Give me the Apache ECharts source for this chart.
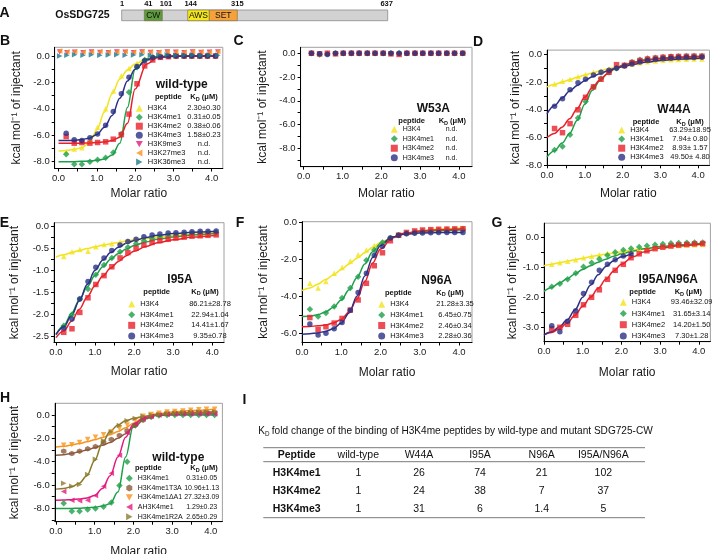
<!DOCTYPE html>
<html><head><meta charset="utf-8">
<script src="https://cdn.jsdelivr.net/npm/echarts@6/dist/echarts.min.js"></script>
<style>html,body{margin:0;padding:0;background:#fff}#c{width:713px;height:554px}</style>
</head><body><div id="c"></div>
<script>
// ===================== DATA =====================
const xTicks = [0, 1, 2, 3, 4];
const xMinorTicks = [0.5, 1.5, 2.5, 3.5];
const yTicksB = [0, -2, -4, -6, -8], yMinorB = [-1, -3, -5, -7];
const yTicksC = [0, -2, -4, -6, -8], yMinorC = [-1, -3, -5, -7, -9];
const yTicksD = [0, -2, -4, -6, -8], yMinorD = [-1, -3, -5, -7];
const yTicksE = [0, -0.5, -1, -1.5, -2, -2.5], yMinorE = [-0.25, -0.75, -1.25, -1.75, -2.25];
const yTicksF = [0, -2, -4, -6], yMinorF = [-1, -3, -5];
const yTicksG = [0, -1, -2, -3], yMinorG = [-0.5, -1.5, -2.5];
const yTicksH = [0, -2, -4, -6, -8], yMinorH = [-1, -3, -5, -7, -9];

// injection molar ratios
const injX = [0.2,0.41,0.61,0.82,1.02,1.23,1.43,1.64,1.84,2.05,2.25,2.46,2.66,2.87,3.07,3.28,3.48,3.69,3.89,4.1];
const ndX  = [0.03,0.22,0.42,0.64,0.86,1.08,1.3,1.52,1.74,1.96,2.18,2.4,2.62,2.84,3.06,3.28,3.5,3.72,3.94,4.16];
const injXG3 = [0.2,0.41,0.61,0.82,1.02,1.23,1.43,1.64,1.84,2.05,2.25];
// fitted curve sample positions
const fitX = [0,0.2,0.4,0.6,0.8,1.0,1.2,1.4,1.6,1.8,2.0,2.3,2.6,3.0,3.5,4.1];
const fitXG3 = [0,0.2,0.4,0.6,0.8,1.0,1.2,1.4,1.6,1.8,2.0,2.3];

// Panel B: wild-type
const pepB = ['H3K4','H3K4me1','H3K4me2','H3K4me3','H3K9me3','H3K27me3','H3K36me3'];
const kdB  = ['2.30±0.30','0.31±0.05','0.38±0.06','1.58±0.23','n.d.','n.d.','n.d.'];
const B_k4  = [-7.25,-7.05,-6.95,-6.4,-5.4,-4.0,-2.65,-1.5,-0.95,-0.55,-0.25,-0.1,-0.05,-0.02,0,0,0,0,0,0];
const B_me1 = [-7.45,-8.2,-8.2,-8.0,-7.85,-7.7,-7.3,-5.9,-2.75,-0.85,-0.3,-0.1,-0.05,0,0,0,0,0,0,0];
const B_me2 = [-6.1,-6.6,-6.55,-6.6,-6.55,-6.5,-6.3,-5.95,-4.4,-2.1,-0.75,-0.3,-0.1,-0.05,0,0,0,0,0,0];
const B_me3 = [-5.85,-6.35,-6.4,-6.2,-5.9,-5.25,-4.2,-2.85,-1.6,-0.8,-0.35,-0.12,-0.05,0,0,0,0,0,0,0];
const B_k9  = [0.3,0.25,0.28,0.25,0.3,0.27,0.25,0.3,0.28,0.25,0.3,0.27,0.25,0.3,0.28,0.25,0.3,0.27,0.28,0.3];
const B_k27 = [0.38,0.32,0.35,0.3,0.33,0.35,0.3,0.33,0.35,0.3,0.35,0.32,0.3,0.35,0.33,0.3,0.35,0.33,0.3,0.35];
const B_k36 = [0,0.05,0.1,0.05,0.1,0.05,0.08,0.1,0.05,0.08,0.1,0.05,0.08,0.1,0.05,0.08,0.1,0.05,0.08,0.05];
const B_k4_fit  = [-7.2,-7.15,-7.08,-6.95,-6.6,-5.6,-4.25,-2.85,-1.75,-1.05,-0.6,-0.22,-0.07,-0.02,0,0];
const B_me1_fit = [-8.0,-8.0,-8.0,-7.98,-7.95,-7.9,-7.8,-7.5,-6.6,-3.9,-1.0,-0.2,-0.05,0,0,0];
const B_me2_fit = [-6.6,-6.6,-6.6,-6.6,-6.58,-6.55,-6.5,-6.4,-6.15,-5.1,-2.5,-0.6,-0.12,-0.02,0,0];
const B_me3_fit = [-6.4,-6.4,-6.38,-6.33,-6.22,-5.95,-5.4,-4.5,-3.2,-1.9,-1.0,-0.3,-0.08,-0.02,0,0];

// Panel C: W53A
const pep4 = ['H3K4','H3K4me1','H3K4me2','H3K4me3'];
const kdC  = ['n.d.','n.d.','n.d.','n.d.'];
const C_k4  = [0,-0.05,0,0,0,0,0,0,0,0,0,0,0,0,0,0,0,0,0,0];
const C_me1 = [0,-0.1,-0.05,0,0,0,0,0,0,0,0,0,0,0,0,0,0,0,0,0];
const C_me2 = [0,-0.05,0,-0.05,0,0,0,0,0,0,-0.05,-0.1,0,0,0,0,0,0,0,0];
const C_me3 = [0,-0.05,-0.1,0,0,0,0,0,0,0,0,0,0,0,0,0,0,0,0,0];

// Panel D: W44A
const kdD = ['63.29±18.95','7.94± 0.80','8.93± 1.57','49.50± 4.80'];
const D_k4  = [-2.15,-1.95,-1.8,-1.62,-1.45,-1.3,-1.18,-1.05,-0.93,-0.83,-0.72,-0.62,-0.54,-0.48,-0.44,-0.4,-0.38,-0.36,-0.35,-0.34];
const D_me1 = [-6.9,-6.65,-5.8,-4.6,-3.4,-2.35,-1.75,-1.3,-1.0,-0.8,-0.55,-0.4,-0.3,-0.25,-0.2,-0.17,-0.15,-0.13,-0.12,-0.12];
const D_me2 = [-5.35,-5.65,-5.0,-4.0,-3.1,-2.35,-1.8,-1.3,-0.75,-0.8,-0.6,-0.45,-0.35,-0.28,-0.22,-0.18,-0.16,-0.15,-0.14,-0.14];
const D_me3 = [-3.75,-3.2,-2.55,-2.05,-1.8,-1.5,-1.3,-1.15,-1.0,-0.85,-0.7,-0.55,-0.45,-0.38,-0.32,-0.28,-0.26,-0.24,-0.23,-0.22];
const D_k4_fit  = [-2.35,-2.18,-2.0,-1.83,-1.66,-1.5,-1.35,-1.2,-1.07,-0.95,-0.84,-0.7,-0.58,-0.47,-0.39,-0.33];
const D_me1_fit = [-7.4,-6.95,-6.4,-5.7,-4.75,-3.6,-2.6,-1.9,-1.4,-1.05,-0.8,-0.55,-0.4,-0.28,-0.2,-0.14];
const D_me2_fit = [-6.0,-5.7,-5.25,-4.65,-3.9,-3.1,-2.4,-1.85,-1.4,-1.05,-0.82,-0.6,-0.45,-0.32,-0.23,-0.17];
const D_me3_fit = [-4.3,-3.7,-3.15,-2.65,-2.25,-1.9,-1.62,-1.4,-1.2,-1.03,-0.9,-0.72,-0.58,-0.45,-0.35,-0.27];

// Panel E: I95A
const kdE = ['86.21±28.78','22.94±1.04','14.41±1.67','9.35±0.78'];
const E_k4  = [-0.69,-0.58,-0.53,-0.57,-0.47,-0.42,-0.4,-0.36,-0.33,-0.3,-0.27,-0.25,-0.23,-0.21,-0.2,-0.19,-0.18,-0.17,-0.16,-0.15];
const E_me1 = [-2.25,-2.0,-1.65,-1.42,-1.1,-0.88,-0.72,-0.58,-0.48,-0.4,-0.33,-0.28,-0.25,-0.22,-0.2,-0.18,-0.17,-0.16,-0.15,-0.15];
const E_me2 = [-2.4,-2.32,-1.95,-1.62,-1.32,-1.12,-0.92,-0.72,-0.6,-0.5,-0.43,-0.37,-0.33,-0.3,-0.27,-0.25,-0.23,-0.22,-0.21,-0.2];
const E_me3 = [-2.3,-2.1,-1.65,-1.25,-0.93,-0.72,-0.55,-0.43,-0.35,-0.3,-0.24,-0.2,-0.18,-0.16,-0.15,-0.14,-0.13,-0.12,-0.12,-0.11];
const E_k4_fit  = [-0.7,-0.65,-0.6,-0.55,-0.51,-0.47,-0.43,-0.4,-0.37,-0.34,-0.31,-0.28,-0.25,-0.22,-0.19,-0.16];
const E_me1_fit = [-2.45,-2.25,-1.97,-1.67,-1.37,-1.12,-0.92,-0.75,-0.62,-0.52,-0.44,-0.36,-0.3,-0.25,-0.2,-0.17];
const E_me2_fit = [-2.52,-2.37,-2.15,-1.88,-1.6,-1.35,-1.13,-0.95,-0.8,-0.67,-0.57,-0.46,-0.38,-0.31,-0.25,-0.21];
const E_me3_fit = [-2.45,-2.28,-2.02,-1.68,-1.32,-1.0,-0.77,-0.6,-0.48,-0.39,-0.33,-0.26,-0.21,-0.17,-0.14,-0.12];

// Panel F: N96A
const kdF = ['21.28±3.35','6.45±0.75','2.46±0.34','2.28±0.36'];
const F_k4  = [-3.3,-3.55,-3.2,-2.75,-2.45,-2.1,-1.75,-1.5,-1.25,-1.05,-0.85,-0.7,-0.6,-0.5,-0.45,-0.4,-0.37,-0.34,-0.32,-0.3];
const F_me1 = [-4.7,-5.1,-4.9,-4.55,-4.1,-3.55,-2.95,-2.05,-1.5,-1.1,-0.85,-0.7,-0.6,-0.55,-0.5,-0.47,-0.45,-0.43,-0.42,-0.4];
const F_me2 = [-5.15,-5.8,-5.65,-5.45,-5.2,-4.75,-4.2,-3.3,-2.35,-1.65,-1.0,-0.7,-0.55,-0.47,-0.42,-0.4,-0.38,-0.37,-0.36,-0.35];
const F_me3 = [-5.5,-6.1,-6.0,-5.75,-5.42,-4.75,-3.8,-2.75,-1.8,-1.3,-0.85,-0.7,-0.62,-0.6,-0.58,-0.57,-0.56,-0.56,-0.55,-0.55];
const F_k4_fit  = [-3.7,-3.55,-3.35,-3.1,-2.85,-2.55,-2.25,-1.95,-1.65,-1.35,-1.1,-0.82,-0.62,-0.47,-0.37,-0.3];
const F_me1_fit = [-5.1,-5.08,-5.0,-4.85,-4.6,-4.2,-3.65,-3.0,-2.25,-1.6,-1.15,-0.8,-0.62,-0.52,-0.45,-0.4];
const F_me2_fit = [-5.65,-5.63,-5.6,-5.55,-5.45,-5.25,-4.85,-4.15,-3.2,-2.2,-1.45,-0.85,-0.6,-0.47,-0.4,-0.35];
const F_me3_fit = [-6.05,-6.03,-5.98,-5.9,-5.75,-5.45,-4.9,-4.0,-2.9,-1.9,-1.25,-0.8,-0.65,-0.58,-0.56,-0.55];

// Panel G: I95A/N96A
const kdG = ['93.46±32.09','31.65±3.14','14.20±1.50','7.30±1.28'];
const G_k4  = [-0.9,-0.85,-0.8,-0.75,-0.68,-0.63,-0.58,-0.53,-0.5,-0.45,-0.42,-0.38,-0.35,-0.32,-0.3,-0.28,-0.27,-0.26,-0.25,-0.24];
const G_me1 = [-1.65,-1.55,-1.4,-1.2,-0.98,-0.85,-0.72,-0.6,-0.5,-0.42,-0.37,-0.32,-0.28,-0.25,-0.22,-0.2,-0.19,-0.18,-0.17,-0.17];
const G_me2 = [-3.05,-3.0,-2.9,-2.6,-2.25,-2.0,-1.75,-1.4,-1.1,-0.9,-0.68,-0.55,-0.45,-0.38,-0.33,-0.29,-0.26,-0.24,-0.22,-0.21];
const G_me3 = [-2.95,-3.15,-2.8,-2.45,-1.87,-1.5,-1.1,-0.9,-0.75,-0.62,-0.55];
const G_k4_fit  = [-0.95,-0.9,-0.85,-0.8,-0.75,-0.7,-0.65,-0.6,-0.56,-0.52,-0.48,-0.42,-0.37,-0.32,-0.28,-0.24];
const G_me1_fit = [-1.8,-1.67,-1.52,-1.38,-1.22,-1.07,-0.95,-0.83,-0.73,-0.63,-0.55,-0.46,-0.38,-0.31,-0.25,-0.2];
const G_me2_fit = [-3.25,-3.17,-3.05,-2.85,-2.6,-2.3,-2.0,-1.7,-1.4,-1.12,-0.9,-0.65,-0.48,-0.36,-0.28,-0.22];
const G_me3_fit = [-3.25,-3.15,-2.98,-2.75,-2.42,-2.0,-1.6,-1.25,-0.97,-0.78,-0.65,-0.52];

// Panel H: wild-type, peptide variants
const pepH = ['H3K4me1','H3K4me1T3A','H3K4me1ΔA1','AH3K4me1','H3K4me1R2A'];
const kdH  = ['0.31±0.05','10.96±1.13','27.32±3.09','1.29±0.23','2.65±0.29'];
const H_me1 = [-7.55,-8.25,-8.25,-8.1,-8.0,-7.85,-7.5,-6.05,-4.0,-0.9,-0.35,-0.15,-0.05,0,0,0,0,0,0,0];
const H_t3a = [-3.1,-3.3,-3.1,-2.9,-2.7,-2.35,-2.1,-1.75,-1.35,-0.85,-0.45,-0.15,0.05,0.15,0.2,0.22,0.25,0.25,0.25,0.25];
const H_da1 = [-2.6,-2.55,-2.35,-2.1,-1.9,-1.7,-1.45,-1.15,-0.85,-0.45,-0.1,0.05,0.15,0.25,0.3,0.35,0.4,0.45,0.5,0.5];
const H_ah  = [-6.55,-7.3,-7.35,-7.3,-6.9,-6.1,-5.0,-3.45,-1.5,-0.75,-0.3,-0.1,0,0.05,0.08,0.1,0.1,0.1,0.1,0.1];
const H_r2a = [-5.85,-6.1,-5.95,-5.1,-3.8,-2.2,-1.45,-0.9,-0.5,-0.3,-0.1,0.0,0.05,0.1,0.15,0.2,0.22,0.25,0.25,0.25];
const H_me1_fit = [-8.0,-8.0,-8.0,-7.98,-7.95,-7.9,-7.8,-7.6,-6.6,-3.6,-0.9,-0.15,-0.05,0,0,0];
const H_t3a_fit = [-3.45,-3.4,-3.3,-3.15,-3.0,-2.8,-2.6,-2.35,-2.0,-1.6,-1.05,-0.35,0,0.15,0.22,0.25];
const H_da1_fit = [-2.75,-2.68,-2.58,-2.45,-2.3,-2.12,-1.92,-1.7,-1.42,-1.1,-0.7,-0.15,0.1,0.25,0.38,0.5];
const H_ah_fit  = [-7.3,-7.28,-7.25,-7.2,-7.1,-6.9,-6.3,-5.2,-3.6,-1.9,-0.8,-0.2,0,0.05,0.08,0.1];
const H_r2a_fit = [-6.35,-6.3,-6.15,-5.85,-5.2,-3.9,-2.4,-1.4,-0.85,-0.5,-0.3,-0.1,0.03,0.12,0.2,0.25];

const panelTitles = {B:'wild-type', C:'W53A', D:'W44A', E:'I95A', F:'N96A', G:'I95A/N96A', H:'wild-type'};

// Panel A: domain schematic
const proteinName = 'OsSDG725';
const domainNames = ['CW', 'AWS', 'SET'];
const residueLabels = [1, 41, 101, 144, 315, 637];

// Panel I: table
const tableTitle = ' fold change of the binding of H3K4me peptides by wild-type and mutant SDG725-CW';
const tableHeader = ['Peptide', 'wild-type', 'W44A', 'I95A', 'N96A', 'I95A/N96A'];
const tablePeptides = ['H3K4me1', 'H3K4me2', 'H3K4me3'];
const foldWT   = ['1', '1', '1'];
const foldW44A = ['26', '24', '31'];
const foldI95A = ['74', '38', '6'];
const foldN96A = ['21', '7', '1.4'];
const foldDbl  = ['102', '37', '5'];

// ===================== STYLE / LAYOUT =====================
const FONT = "'Liberation Sans', Arial, Helvetica, sans-serif";
const DOWN = 'path://M0,0L10,0L5,9Z', LEFT = 'path://M9,0L9,10L0,5Z', RIGHT = 'path://M0,0L0,10L9,5Z';
const HEX = 'path://M5,0L9.3,2.5L9.3,7.5L5,10L0.7,7.5L0.7,2.5Z';
const STY = {
  'H3K4': {c:'#F3E31A', s:'triangle'},
  'H3K4me1': {c:'#1E9F4A', s:'diamond'},
  'H3K4me2': {c:'#E8202A', s:'rect'},
  'H3K4me3': {c:'#2B2F85', s:'circle'},
  'H3K9me3': {c:'#E4197E', s:DOWN},
  'H3K27me3': {c:'#F7941D', s:LEFT},
  'H3K36me3': {c:'#1B7B88', s:RIGHT},
  'H3K4me1T3A': {c:'#8B5A3C', s:HEX},
  'H3K4me1ΔA1': {c:'#F7941D', s:DOWN},
  'AH3K4me1': {c:'#E4197E', s:LEFT},
  'H3K4me1R2A': {c:'#8C7A2B', s:RIGHT}
};

const panels = [
  {id:'B', peps:pepB, kds:kdB, pts:[B_k4,B_me1,B_me2,B_me3,B_k9,B_k27,B_k36], ptx:[injX,injX,injX,injX,ndX,ndX,ndX],
   fits:[B_k4_fit,B_me1_fit,B_me2_fit,B_me3_fit,null,null,null], fx:[fitX,fitX,fitX,fitX], yT:yTicksB, yM:yMinorB},
  {id:'C', peps:pep4, kds:kdC, pts:[C_k4,C_me1,C_me2,C_me3], ptx:[injX,injX,injX,injX], fits:[null,null,null,null], fx:[], yT:yTicksC, yM:yMinorC},
  {id:'D', peps:pep4, kds:kdD, pts:[D_k4,D_me1,D_me2,D_me3], ptx:[injX,injX,injX,injX],
   fits:[D_k4_fit,D_me1_fit,D_me2_fit,D_me3_fit], fx:[fitX,fitX,fitX,fitX], yT:yTicksD, yM:yMinorD},
  {id:'E', peps:pep4, kds:kdE, pts:[E_k4,E_me1,E_me2,E_me3], ptx:[injX,injX,injX,injX],
   fits:[E_k4_fit,E_me1_fit,E_me2_fit,E_me3_fit], fx:[fitX,fitX,fitX,fitX], yT:yTicksE, yM:yMinorE},
  {id:'F', peps:pep4, kds:kdF, pts:[F_k4,F_me1,F_me2,F_me3], ptx:[injX,injX,injX,injX],
   fits:[F_k4_fit,F_me1_fit,F_me2_fit,F_me3_fit], fx:[fitX,fitX,fitX,fitX], yT:yTicksF, yM:yMinorF},
  {id:'G', peps:pep4, kds:kdG, pts:[G_k4,G_me1,G_me2,G_me3], ptx:[injX,injX,injX,injXG3],
   fits:[G_k4_fit,G_me1_fit,G_me2_fit,G_me3_fit], fx:[fitX,fitX,fitX,fitXG3], yT:yTicksG, yM:yMinorG},
  {id:'H', peps:pepH, kds:kdH, pts:[H_me1,H_t3a,H_da1,H_ah,H_r2a], ptx:[injX,injX,injX,injX,injX],
   fits:[H_me1_fit,H_t3a_fit,H_da1_fit,H_ah_fit,H_r2a_fit], fx:[fitX,fitX,fitX,fitX,fitX], yT:yTicksH, yM:yMinorH}
];

const layout = {
  B:{l:54.7,t:47.3,r:222.8,b:168.5,x:[-0.1,4.29],y:[-8.52,0.66],yGap:32.5,xGap:19,
     leg:{ix:139.3,row:108.3,sp:8.95,kx:204,fs:7.5},title:[181.7,85,12],head:{y:97.3,px:168.3,kx:204}},
  C:{l:300.6,t:47.3,r:472,b:166.7,x:[-0.08,4.34],y:[-9.55,0.5],yGap:31.5,xGap:20.5,
     leg:{ix:394.3,row:129.3,sp:9.47,kx:451.5,fs:7},title:[433.3,108.3,12],head:{y:121,px:411.7,kx:452.3}},
  D:{l:547,t:50.1,r:709.5,b:165.3,x:[0,4.3],y:[-8,0.3],yGap:20,xGap:22.5,
     leg:{ix:621.7,row:130,sp:9.1,kx:690,fs:7.5},title:[674,110,12],head:{y:122.3,px:646,kx:690}},
  E:{l:54,t:222.7,r:224,b:342.5,x:[-0.05,4.3],y:[-2.63,0.075],yGap:33,xGap:23.5,
     leg:{ix:131.7,row:304,sp:10.67,kx:210,fs:7.5},title:[180,280,12],head:{y:291.7,px:156.7,kx:205}},
  F:{l:302,t:221.7,r:472,b:342.5,x:[0,4.33],y:[-6.5,0.03],yGap:32.5,xGap:24,
     leg:{ix:381.7,row:304.3,sp:10.6,kx:455,fs:7.5},title:[436.7,281,12],head:{y:292.7,px:398.3,kx:450}},
  G:{l:544,t:223.2,r:710.4,b:341.7,x:[0,4.3],y:[-3.48,0.47],yGap:18,xGap:24.5,
     leg:{ix:623.3,row:302.3,sp:11.2,kx:691.7,fs:7.5},title:[668.3,280,12],head:{y:292.3,px:642.7,kx:688.3}},
  H:{l:54.8,t:403.3,r:222.4,b:521.7,x:[-0.03,4.3],y:[-9.14,1.0],yGap:34,xGap:24,
     leg:{ix:129.3,row:478.3,sp:9.6,kx:201.7,fs:7},title:[178.3,457.3,12],head:{y:468.3,px:148.3,kx:204}}
};

// ===================== BUILD =====================
const grids = [], xAxes = [], yAxes = [], legends = [], series = [], graphics = [];
const info = {};
const fmt1 = v => v.toFixed(1);
const merge = (a, b) => a.concat(b).sort((u, v) => u - v);

function txt(x, y, text, size, bold, align, extra) {
  return Object.assign({type:'text', x:x, y:y, silent:true,
    style:{text:text, fontSize:size, fontWeight:bold?'bold':'normal', fontFamily:FONT, fill:'#111',
           align:align||'center', verticalAlign:'middle'}}, extra||{});
}
function kdHeader(x, y, size) {
  return {type:'text', x:x, y:y, silent:true, style:{text:'{a|K}{s|D}{a| (μM)}', fontFamily:FONT, fill:'#111',
    align:'center', verticalAlign:'middle',
    rich:{a:{fontSize:size, fontWeight:'bold', fontFamily:FONT}, s:{fontSize:size-2, fontWeight:'bold', fontFamily:FONT, padding:[4,0,0,0]}}}};
}

panels.forEach((p, i) => {
  const L = layout[p.id];
  grids.push({left:L.l, top:L.t, width:L.r-L.l, height:L.b-L.t, show:true, borderColor:'#a0a0a0', borderWidth:1,
              backgroundColor:'rgba(0,0,0,0)', containLabel:false, outerBoundsMode:'none'});
  const axLine = {show:true, onZero:false, lineStyle:{color:'#000', width:1}};
  xAxes.push({gridIndex:i, type:'value', min:L.x[0], max:L.x[1], position:'bottom', axisLine:axLine,
    axisTick:{show:true, customValues:merge(xTicks, xMinorTicks), length:3, lineStyle:{color:'#000'}},
    axisLabel:{customValues:xTicks, formatter:fmt1, fontSize:9.5, color:'#1a1a1a', margin:5, fontFamily:FONT},
    splitLine:{show:false}, name:'Molar ratio', nameLocation:'middle', nameGap:L.xGap,
    nameTextStyle:{fontSize:12, color:'#1a1a1a', fontFamily:FONT}});
  yAxes.push({gridIndex:i, type:'value', min:L.y[0], max:L.y[1], position:'left', axisLine:axLine,
    axisTick:{show:true, customValues:merge(p.yT, p.yM), length:3, lineStyle:{color:'#000'}},
    axisLabel:{customValues:p.yT, formatter:fmt1, fontSize:9.5, color:'#1a1a1a', margin:5, fontFamily:FONT},
    splitLine:{show:false}, name:'kcal mol⁻¹ of injectant', nameLocation:'middle', nameGap:L.yGap, nameRotate:90,
    nameTextStyle:{fontSize:12, color:'#1a1a1a', fontFamily:FONT}});

  const names = [];
  p.peps.forEach((pep, k) => {
    const st = STY[pep];
    const nm = p.id + ':' + pep;
    names.push(nm);
    info[nm] = {pep:pep, kd:p.kds[k]};
    if (p.fits[k]) {
      series.push({type:'line', name:nm + ' fit', xAxisIndex:i, yAxisIndex:i, smooth:0.35, smoothMonotone:'x',
        showSymbol:false, symbol:'none', silent:true, z:2,
        lineStyle:{color:st.c, width:1.5}, data:p.fx[k].map((x, j) => [x, p.fits[k][j]])});
    }
    series.push({type:'scatter', name:nm, xAxisIndex:i, yAxisIndex:i, symbol:st.s,
      symbolSize: st.s==='diamond' ? 6.5 : 5.5, itemStyle:{color:st.c}, z:3, silent:true,
      data:p.pts[k].map((y, j) => [p.ptx[k][j], y])});
  });

  const lg = L.leg, W2 = 44, textStart = lg.ix + 3.5 + 5, W1 = lg.kx - W2/2 - textStart;
  legends.push({orient:'vertical', left:lg.ix-3.5, top:lg.row-4.5, itemWidth:7, itemHeight:7, itemGap:lg.sp-9,
    padding:0, selectedMode:false, data:names,
    formatter: n => '{n|' + info[n].pep + '}{k|' + info[n].kd + '}',
    textStyle:{fontSize:lg.fs, color:'#111', fontFamily:FONT, lineHeight:9,
      rich:{n:{width:W1, fontSize:lg.fs, lineHeight:9, fontFamily:FONT}, k:{width:W2, align:'center', fontSize:lg.fs, lineHeight:9, fontFamily:FONT}}}});

  graphics.push(txt(L.title[0], L.title[1], panelTitles[p.id], L.title[2], true));
  graphics.push(txt(L.head.px, L.head.y, 'peptide', 7.5, true));
  graphics.push(kdHeader(L.head.kx, L.head.y, 7.5));
});

// panel letters
[['A',4.5,12.8],['B',5,41.5],['C',238.5,41.5],['D',478,42],['E',4.5,223],['F',240,223],['G',497,223],['H',5,398],['I',244.5,400]]
  .forEach(a => graphics.push(txt(a[1], a[2], a[0], 14, true)));

// Panel A schematic
graphics.push(txt(82.5, 15, proteinName, 10.5, true));
graphics.push({type:'rect', silent:true, shape:{x:121.7, y:10, width:266, height:10.7}, style:{fill:'#d2d2d2', stroke:'#8a8a8a', lineWidth:0.8}});
const domBoxes = [[144.3, 162.3, '#5C9B3E'], [187.7, 209.3, '#F4E81B'], [209.3, 237.3, '#F6A13A']];
domainNames.forEach((d, k) => {
  const b = domBoxes[k];
  graphics.push({type:'rect', silent:true, shape:{x:b[0], y:10, width:b[1]-b[0], height:10.7}, style:{fill:b[2], stroke:'#7a6a40', lineWidth:0.6}});
  graphics.push(txt((b[0]+b[1])/2, 15.6, d, 8.5, false));
});
const resPos = [122, 148.3, 166, 190.7, 237.3, 386.7];
residueLabels.forEach((r, k) => graphics.push(txt(resPos[k], 4.3, String(r), 7.5, true)));

// Panel I table
graphics.push(txt(258.3, 431.7, 'K', 10, false, 'left'));
graphics.push(txt(264.9, 434.2, 'D', 6.3, false, 'left'));
graphics.push(txt(269, 431.7, tableTitle, 10.1, false, 'left'));
[447.7, 461.7, 517.7].forEach(y => graphics.push({type:'line', silent:true, shape:{x1:263.3, y1:y, x2:645, y2:y}, style:{stroke:'#7a7a7a', lineWidth:1}}));
const colX = [296.7, 358.3, 419, 480, 541.7, 603.3];
const rowY = [473.3, 491, 509];
tableHeader.forEach((h, k) => graphics.push(txt(colX[k], 455.5, h, 10.5, k === 0)));
const cols = [tablePeptides, foldWT, foldW44A, foldI95A, foldN96A, foldDbl];
cols.forEach((col, k) => col.forEach((v, r) => graphics.push(txt(colX[k], rowY[r], v, 10.5, k === 0))));

const chart = echarts.init(document.getElementById('c'), null, {renderer:'canvas'});
chart.setOption({
  animation:false,
  backgroundColor:'#ffffff',
  textStyle:{fontFamily:FONT},
  grid:grids, xAxis:xAxes, yAxis:yAxes, legend:legends, series:series, graphic:graphics
});
</script></body></html>
